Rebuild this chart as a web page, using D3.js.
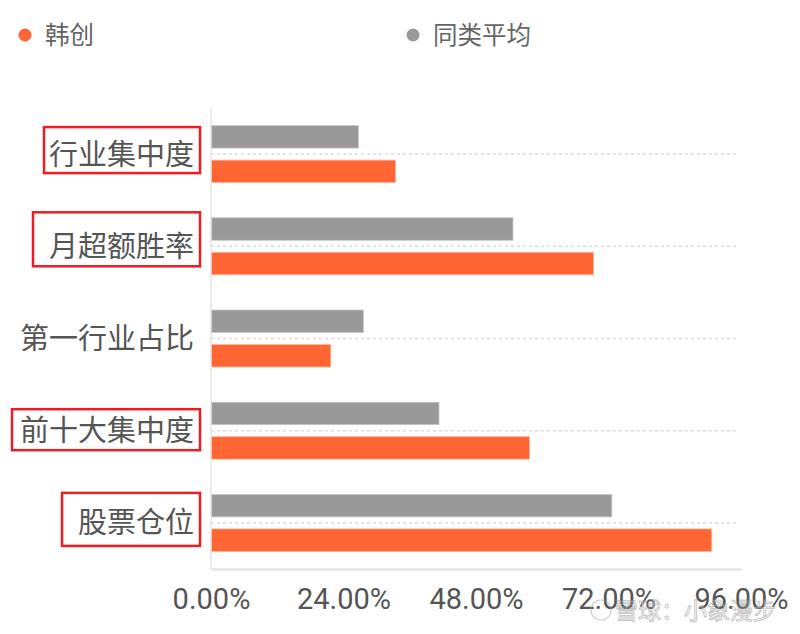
<!DOCTYPE html>
<html>
<head>
<meta charset="utf-8">
<script src="https://cdn.jsdelivr.net/npm/d3@7"></script>
<style>
  body { margin: 0; background: #fff; }
  svg { display: block; }
</style>
</head>
<body>
<svg id="chart" width="800" height="634"></svg>
<script>
const categories = ["行业集中度", "月超额胜率", "第一行业占比", "前十大集中度", "股票仓位"];
const seriesNames = ["同类平均", "韩创"];
const peerAvg = [26.7, 54.7, 27.6, 41.3, 72.6];
const hanChuang = [33.4, 69.3, 21.7, 57.7, 90.7];
const xTicks = [0, 24, 48, 72, 96];
const highlighted = ["行业集中度", "月超额胜率", "前十大集中度", "股票仓位"];

const colors = { "韩创": "#ff6633", "同类平均": "#999999" };
const cjk = "'Noto Sans CJK SC', 'Noto Sans', sans-serif";

const svg = d3.select("#chart");

const plotLeft = 211, plotRight = 741, plotTop = 108, plotBottom = 569;

const x = d3.scaleLinear().domain([0, 96]).range([plotLeft, plotRight]);
const y = d3.scaleBand().domain(categories).range([plotTop, plotBottom]);
const yInner = d3.scaleBand()
  .domain(seriesNames)
  .range([0, y.bandwidth()])
  .paddingInner(0.348)
  .paddingOuter(0.51);
const yMid = c => y(c) + y.bandwidth() / 2;

const rows = categories.map((c, i) => ({
  cat: c,
  values: [
    { name: "同类平均", v: peerAvg[i] },
    { name: "韩创", v: hanChuang[i] }
  ]
}));

// legend
const legend = [
  { name: "韩创", x: 25 },
  { name: "同类平均", x: 413 }
];
const lg = svg.append("g");
lg.selectAll("circle")
  .data(legend)
  .enter()
  .append("circle")
  .attr("cx", d => d.x)
  .attr("cy", 35)
  .attr("r", 6.5)
  .attr("fill", d => colors[d.name]);
lg.selectAll("text")
  .data(legend)
  .enter()
  .append("text")
  .attr("x", d => d.x + 20)
  .attr("y", 44)
  .attr("font-family", cjk)
  .attr("font-size", 24.5)
  .attr("fill", "#666")
  .text(d => d.name);

// dotted guide lines at category centres
svg.append("g")
  .selectAll("line")
  .data(categories)
  .enter()
  .append("line")
  .attr("x1", plotLeft)
  .attr("x2", plotRight - 2)
  .attr("y1", yMid)
  .attr("y2", yMid)
  .attr("stroke", "#dcdcdc")
  .attr("stroke-width", 1.5)
  .attr("stroke-dasharray", "3,3");

// bars
const group = svg.append("g")
  .selectAll("g")
  .data(rows)
  .enter()
  .append("g")
  .attr("transform", d => "translate(0," + y(d.cat) + ")");

group.selectAll("rect")
  .data(d => d.values)
  .enter()
  .append("rect")
  .attr("x", x(0))
  .attr("y", d => yInner(d.name))
  .attr("width", d => x(d.v) - x(0))
  .attr("height", yInner.bandwidth())
  .attr("fill", d => colors[d.name])
  .attr("stroke", d => d.name === "韩创" ? "#ffb89a" : "#c8c8c8")
  .attr("stroke-width", 0.8);

// axes lines
svg.append("line")
  .attr("x1", plotLeft).attr("x2", plotLeft)
  .attr("y1", plotTop).attr("y2", plotBottom)
  .attr("stroke", "#e6e6e6").attr("stroke-width", 1.5);

const xAxis = svg.append("g")
  .attr("transform", "translate(0," + plotBottom + ")")
  .call(d3.axisBottom(x).tickValues(xTicks).tickSize(0).tickPadding(19)
    .tickFormat(d => d.toFixed(2) + "%"));
xAxis.select(".domain")
  .attr("stroke", "#e6e6e6")
  .attr("stroke-width", 2.5);
xAxis.selectAll("text")
  .attr("font-family", "Roboto, sans-serif")
  .attr("font-size", 29)
  .attr("fill", "#555");

// category labels
svg.append("g")
  .selectAll("text")
  .data(categories)
  .enter()
  .append("text")
  .attr("x", 194)
  .attr("y", yMid)
  .attr("dy", "0.36em")
  .attr("text-anchor", "end")
  .attr("font-family", cjk)
  .attr("font-size", 29)
  .attr("fill", "#555")
  .text(d => d);

// red highlight boxes (offsets relative to the category centre)
const boxes = [
  { cat: "行业集中度", x0: 44, up: 27, down: 19 },
  { cat: "月超额胜率", x0: 33, up: 34, down: 20 },
  { cat: "前十大集中度", x0: 12, up: 21.5, down: 19.5 },
  { cat: "股票仓位", x0: 62, up: 30, down: 23 }
];
svg.append("g")
  .selectAll("rect")
  .data(boxes.filter(b => highlighted.includes(b.cat)))
  .enter()
  .append("rect")
  .attr("x", d => d.x0)
  .attr("y", d => yMid(d.cat) - d.up)
  .attr("width", d => 200 - d.x0)
  .attr("height", d => d.up + d.down)
  .attr("fill", "none")
  .attr("stroke", "#ec1c24")
  .attr("stroke-width", 2.5);

// watermark
const wm = svg.append("g").attr("opacity", 0.5);
wm.append("circle")
  .attr("cx", 601).attr("cy", 610).attr("r", 10)
  .attr("fill", "none").attr("stroke", "#999").attr("stroke-width", 1.2);
wm.append("text")
  .attr("x", 615)
  .attr("y", 619)
  .attr("font-family", cjk)
  .attr("font-size", 23)
  .attr("fill", "#fff")
  .attr("stroke", "#888")
  .attr("stroke-width", 0.9)
  .text("雪球：小象漫步");
</script>
</body>
</html>
